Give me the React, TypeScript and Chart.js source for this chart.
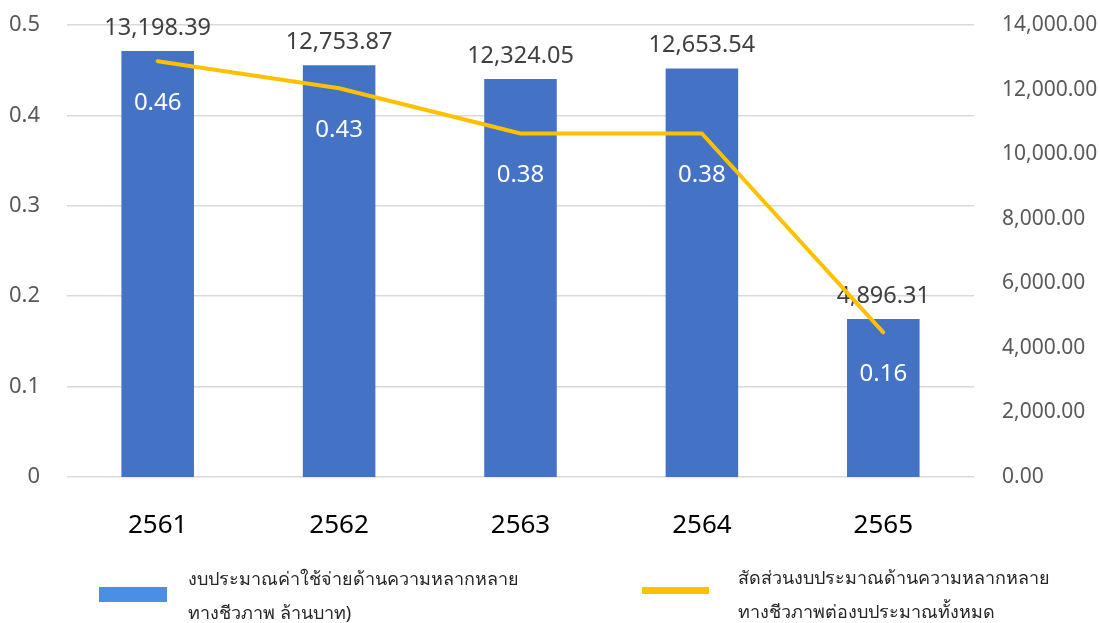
import React, { useEffect, useRef } from "react";
import { Chart, registerables } from "chart.js";

Chart.register(...registerables);

const categories = ["2561", "2562", "2563", "2564", "2565"];
const budgetValues = [13198.39, 12753.87, 12324.05, 12653.54, 4896.31];
const ratioValues = [0.46, 0.43, 0.38, 0.38, 0.16];
const ratioAxisMax = 0.5;
const ratioAxisStep = 0.1;
const budgetAxisMax = 14000;
const budgetAxisStep = 2000;

const budgetLegend = ["งบประมาณค่าใช้จ่ายด้านความหลากหลาย", "ทางชีวภาพ ล้านบาท)"];
const ratioLegend = ["สัดส่วนงบประมาณด้านความหลากหลาย", "ทางชีวภาพต่องบประมาณทั้งหมด"];

const FONT = "'Noto Sans', 'DejaVu Sans', sans-serif";
const BAR_COLOR = "#4472C4";
const LINE_COLOR = "#FFC000";

const fmt2 = (v: number) =>
  v.toLocaleString("en-US", { minimumFractionDigits: 2, maximumFractionDigits: 2 });

const labelsPlugin = {
  id: "valueLabels",
  beforeDatasetsDraw(chart: any) {
    const ctx = chart.ctx;
    const barMeta = chart.getDatasetMeta(1);
    ctx.save();
    ctx.font = `23.5px ${FONT}`;
    ctx.fillStyle = "#404040";
    ctx.textAlign = "center";
    ctx.textBaseline = "middle";
    barMeta.data.forEach((el: any, i: number) => {
      ctx.fillText(fmt2(budgetValues[i]), el.x, el.y - 23);
    });
    ctx.restore();
  },
  afterDatasetsDraw(chart: any) {
    const ctx = chart.ctx;
    const lineMeta = chart.getDatasetMeta(0);
    ctx.save();
    ctx.font = `24px ${FONT}`;
    ctx.fillStyle = "#FFFFFF";
    ctx.textAlign = "center";
    ctx.textBaseline = "middle";
    lineMeta.data.forEach((el: any, i: number) => {
      ctx.fillText(String(ratioValues[i]), el.x, el.y + 42);
    });
    ctx.restore();
  },
};

export default function App() {
  const canvasRef = useRef<HTMLCanvasElement | null>(null);

  useEffect(() => {
    if (!canvasRef.current) return;
    const chart = new Chart(canvasRef.current, {
      type: "bar",
      data: {
        labels: categories,
        datasets: [
          {
            type: "line",
            label: ratioLegend.join(""),
            data: ratioValues,
            yAxisID: "yRatio",
            borderColor: LINE_COLOR,
            backgroundColor: LINE_COLOR,
            borderWidth: 4,
            pointRadius: 0,
            tension: 0,
            borderCapStyle: "round",
            borderJoinStyle: "round",
            order: 1,
          } as any,
          {
            type: "bar",
            label: budgetLegend.join(""),
            data: budgetValues,
            yAxisID: "yBudget",
            backgroundColor: BAR_COLOR,
            categoryPercentage: 1,
            barPercentage: 0.4,
            order: 2,
          } as any,
        ],
      },
      options: {
        responsive: false,
        animation: false,
        layout: { padding: { top: 25, left: 0, right: 0, bottom: 0 } },
        plugins: {
          legend: { display: false },
          tooltip: { enabled: false },
        },
        scales: {
          x: {
            grid: { display: false },
            border: { display: false },
            ticks: {
              color: "#000000",
              font: { family: FONT, size: 26 },
              padding: 25,
              maxRotation: 0,
            },
            afterFit(scale: any) {
              scale.height = 146;
            },
          },
          yRatio: {
            position: "left",
            min: 0,
            max: ratioAxisMax,
            grid: { color: "#D9D9D9", lineWidth: 1.5, drawTicks: false },
            border: { display: false },
            ticks: {
              stepSize: ratioAxisStep,
              color: "#595959",
              font: { family: FONT, size: 22 },
              padding: 27,
            },
            afterFit(scale: any) {
              scale.width = 67;
              scale.paddingTop = 0;
              scale.paddingBottom = 0;
            },
          },
          yBudget: {
            position: "right",
            min: 0,
            max: budgetAxisMax,
            grid: { display: false, drawTicks: false },
            border: { display: false },
            ticks: {
              stepSize: budgetAxisStep,
              color: "#595959",
              font: { family: FONT, size: 21 },
              padding: 28,
              callback: (v: any) => fmt2(Number(v)),
            },
            afterFit(scale: any) {
              scale.width = 126;
              scale.paddingTop = 0;
              scale.paddingBottom = 0;
            },
          },
        },
      } as any,
      plugins: [labelsPlugin],
    });
    return () => chart.destroy();
  }, []);

  const legendText: React.CSSProperties = {
    position: "absolute",
    fontFamily: FONT,
    fontSize: 18,
    lineHeight: "34px",
    color: "#262626",
    whiteSpace: "nowrap",
  };

  return (
    <div style={{ position: "absolute", left: 0, top: 0, width: 1100, height: 623, overflow: "hidden", background: "#fff" }}>
      <canvas ref={canvasRef} width={1100} height={623} style={{ display: "block" }} />
      <div style={{ position: "absolute", left: 99, top: 587, width: 68, height: 15, background: "#4A8FE6" }} />
      <div style={{ ...legendText, left: 188, top: 561 }}>
        {budgetLegend.map((t, i) => (
          <div key={i}>{t}</div>
        ))}
      </div>
      <div style={{ position: "absolute", left: 642, top: 587, width: 67, height: 7, background: LINE_COLOR }} />
      <div style={{ ...legendText, left: 738, top: 560 }}>
        {ratioLegend.map((t, i) => (
          <div key={i}>{t}</div>
        ))}
      </div>
    </div>
  );
}
